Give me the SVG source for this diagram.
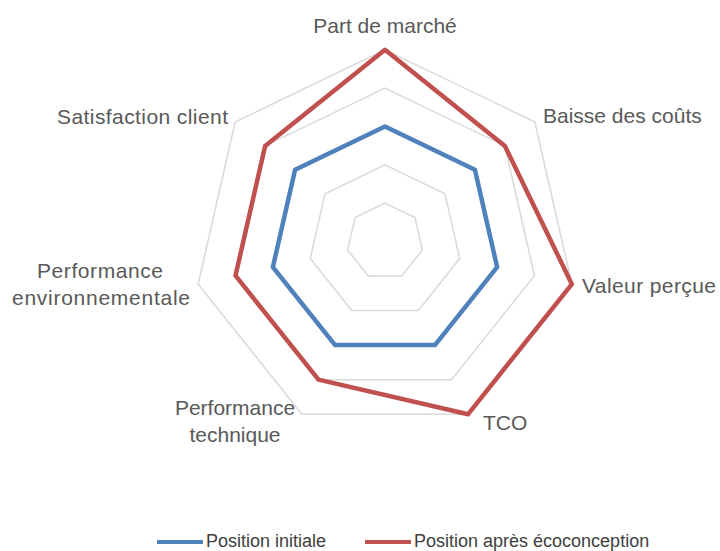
<svg xmlns="http://www.w3.org/2000/svg" width="720" height="551" viewBox="0 0 720 551">
<style>
.grid{fill:none;stroke:#d9d9d9;stroke-width:1.5}
.s1{fill:none;stroke:#4f81bd;stroke-width:4.5;stroke-linejoin:round}
.s2{fill:none;stroke:#c0504d;stroke-width:4.5;stroke-linejoin:round}
.lbl{font-family:"Liberation Sans",Arial,sans-serif;font-size:21px;fill:#595959}
.leg{font-family:"Liberation Sans",Arial,sans-serif;font-size:18px;fill:#404040}
</style>
<rect width="720" height="551" fill="#ffffff"/>
<g id="grid" transform="translate(385,241.5)">
<polygon class="grid" points="0,-38.33 29.97,-23.9 37.37,8.53 16.63,34.54 -16.63,34.54 -37.37,8.53 -29.97,-23.9"/>
<polygon class="grid" points="0,-76.67 59.94,-47.8 74.74,17.06 33.26,69.07 -33.26,69.07 -74.74,17.06 -59.94,-47.8"/>
<polygon class="grid" points="0,-115 89.91,-71.7 112.12,25.59 49.9,103.61 -49.9,103.61 -112.12,25.59 -89.91,-71.7"/>
<polygon class="grid" points="0,-153.33 119.88,-95.6 149.49,34.12 66.53,138.15 -66.53,138.15 -149.49,34.12 -119.88,-95.6"/>
<polygon class="grid" points="0,-191.67 149.85,-119.5 186.86,42.65 83.16,172.69 -83.16,172.69 -186.86,42.65 -149.85,-119.5"/>
</g>
<g id="series" transform="translate(385,241.5)">
<polygon id="initiale" class="s1" points="0,-115 89.91,-71.7 112.12,25.59 49.9,103.61 -49.9,103.61 -112.12,25.59 -89.91,-71.7"/>
<polygon id="apres" class="s2" points="0,-191.67 119.88,-95.6 186.86,42.65 83.16,172.69 -66.53,138.15 -149.49,34.12 -119.88,-95.6"/>
</g>
<g id="labels">
<text id="l-part" class="lbl" x="385" y="33" text-anchor="middle">Part de marché</text>
<text id="l-baisse" class="lbl" x="543" y="123">Baisse des coûts</text>
<text id="l-valeur" class="lbl" x="582" y="293" textLength="134">Valeur perçue</text>
<text id="l-tco" class="lbl" x="483" y="430">TCO</text>
<text id="l-perftech" class="lbl" x="235" y="415" text-anchor="middle">Performance<tspan x="235" y="442">technique</tspan></text>
<text id="l-perfenv" class="lbl" text-anchor="middle"><tspan x="100" y="278" textLength="126">Performance</tspan><tspan x="101" y="305" textLength="178">environnementale</tspan></text>
<text id="l-satis" class="lbl" x="57" y="124" textLength="171">Satisfaction client</text>
</g>
<g id="legend">
<line x1="157" y1="542" x2="203" y2="542" stroke="#4f81bd" stroke-width="4"/>
<text class="leg" x="206" y="547">Position initiale</text>
<line x1="365" y1="542" x2="411" y2="542" stroke="#c0504d" stroke-width="4"/>
<text class="leg" x="414" y="547">Position après écoconception</text>
</g>
</svg>
